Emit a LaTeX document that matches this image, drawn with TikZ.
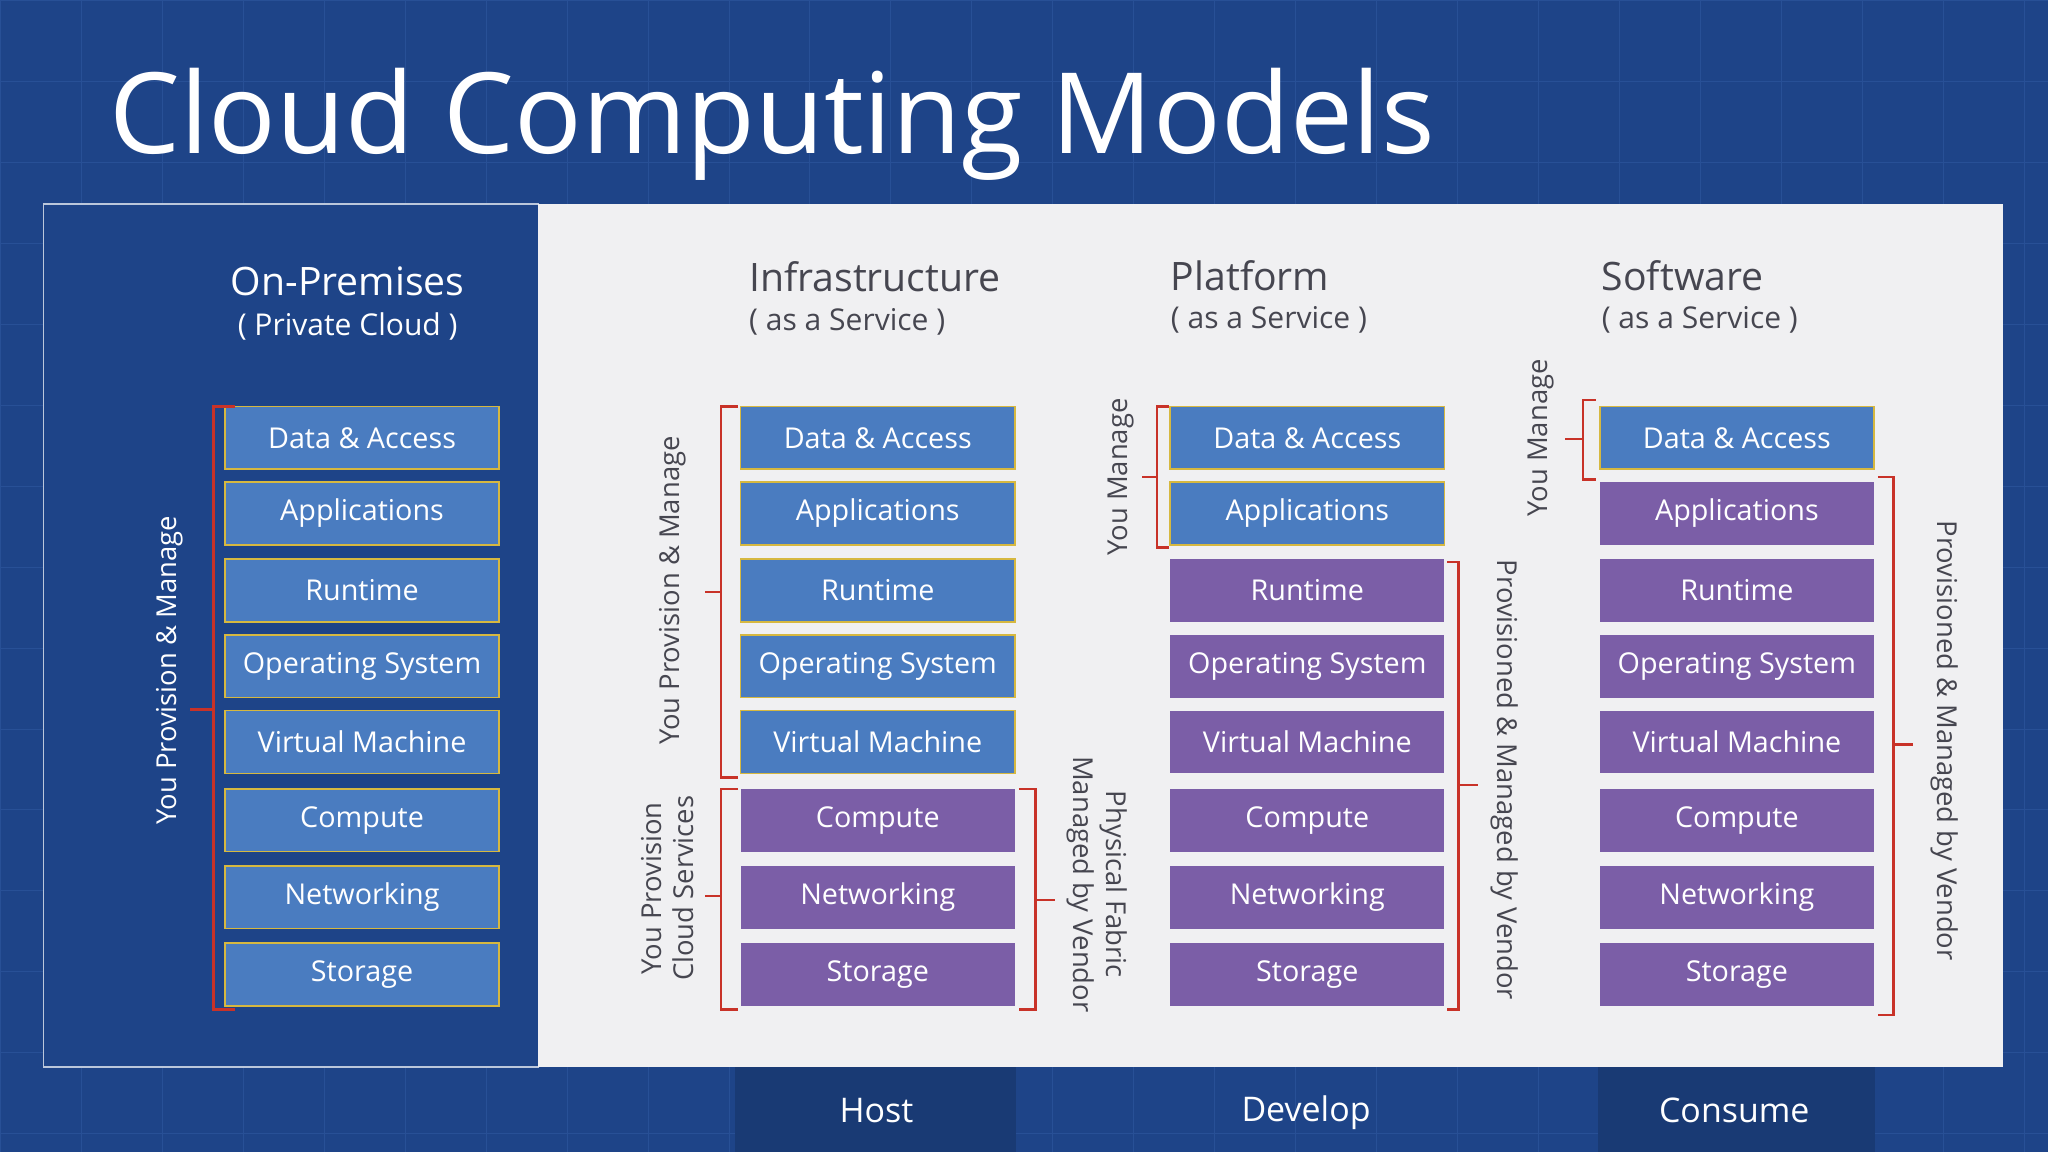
\documentclass[tikz,border=0pt]{standalone}
\usepackage{fontspec}
\setmainfont{Open Sans}
\definecolor{bgblue}{RGB}{30,68,136}
\definecolor{gridc}{RGB}{40,80,150}
\definecolor{panel}{RGB}{240,240,242}
\definecolor{bbox}{RGB}{74,124,192}
\definecolor{bbord}{RGB}{214,184,64}
\definecolor{pbox}{RGB}{123,94,167}
\definecolor{brk}{RGB}{200,50,40}
\definecolor{lab}{RGB}{70,70,80}
\begin{document}
\begin{tikzpicture}[x=1pt,y=-1pt,
  bl/.style={draw=bbord,line width=1.2pt,fill=bbox,minimum width=210pt,minimum height=48pt,text=white,font=\fontsize{22}{24}\selectfont,inner sep=0pt},
  pu/.style={fill=pbox,minimum width=210pt,minimum height=48pt,text=white,font=\fontsize{22}{24}\selectfont,inner sep=0pt},
  brace/.style={draw=brk,line width=2pt},
  rl/.style={text=white,font=\fontsize{21}{25}\selectfont,align=center},
  dl/.style={text=lab,font=\fontsize{21}{25}\selectfont,align=center},
  hd/.style={text=lab,font=\fontsize{30}{32}\selectfont,anchor=west},
  sh/.style={text=lab,font=\fontsize{23}{26}\selectfont,anchor=west}]
\fill[bgblue] (0,0) rectangle (1568,882);
\foreach \x in {0,62,...,1568} \draw[gridc,line width=0.6pt] (\x,0) -- (\x,882);
\foreach \y in {0,62,...,882} \draw[gridc,line width=0.6pt] (0,\y) -- (1568,\y);
\node[text=white,font=\fontsize{86}{90}\selectfont,anchor=west] (title) at (80,95) {Cloud Computing Models};
\draw[fill=bgblue,draw=white!70!bgblue,line width=1pt] (33,156) rectangle (412,817);
\fill[panel] (412,156) rectangle (1534,817);
\fill[bgblue!85!black] (563,817) rectangle (778,882);
\fill[bgblue!85!black] (1224,817) rectangle (1436,882);
\node[text=white,font=\fontsize{30}{32}\selectfont] (h0) at (266,215) {On-Premises};
\node[text=white,font=\fontsize{23}{26}\selectfont] (s0) at (266,250) {( Private Cloud )};
\node[hd] (h1) at (570,212) {Infrastructure};
\node[sh] (s1) at (570,246) {( as a Service )};
\node[hd] (h2) at (893,211) {Platform};
\node[sh] (s2) at (893,245) {( as a Service )};
\node[hd] (h3) at (1223,211) {Software};
\node[sh] (s3) at (1223,245) {( as a Service )};
\def\rows{{335,393,452,510,568,628,687,746}}
\def\names{{"Data \& Access","Applications","Runtime","Operating System","Virtual Machine","Compute","Networking","Storage"}}
\foreach \i/\t in {0/Data \& Access,1/Applications,2/Runtime,3/Operating System,4/Virtual Machine,5/Compute,6/Networking,7/Storage}{
  \pgfmathsetmacro{\yy}{\rows[\i]}
  \node[bl] (a\i) at (277,\yy) {\t};
  \ifnum\i<5 \node[bl] (b\i) at (672,\yy) {\t}; \else \node[pu] (b\i) at (672,\yy) {\t}; \fi
  \ifnum\i<2 \node[bl] (c\i) at (1001,\yy) {\t}; \else \node[pu] (c\i) at (1001,\yy) {\t}; \fi
  \ifnum\i<1 \node[bl] (d\i) at (1330,\yy) {\t}; \else \node[pu] (d\i) at (1330,\yy) {\t}; \fi
}
% brackets
\draw[brace] (180,311) -- (163,311) -- (163,773) -- (180,773) (163,543) -- (145,543);
\node[rl,rotate=90] (l0) at (130,513) {You Provision \& Manage};
\draw[brace] (565,311) -- (552,311) -- (552,595) -- (565,595) (552,453) -- (540,453);
\node[dl,rotate=90] (l1) at (515,452) {You Provision \& Manage};
\draw[brace] (565,604) -- (552,604) -- (552,773) -- (565,773) (552,686) -- (540,686);
\node[dl,rotate=90] (l2) at (511,680) {You Provision\\Cloud Services};
\draw[brace] (780,604) -- (793,604) -- (793,773) -- (780,773) (793,689) -- (808,689);
\node[dl,rotate=-90] (l3) at (840,677) {Physical Fabric\\Managed by Vendor};
\draw[brace] (895,311) -- (886,311) -- (886,419) -- (895,419) (886,365) -- (874,365);
\node[dl,rotate=90] (l4) at (858,365) {You Manage};
\draw[brace] (1108,430) -- (1117,430) -- (1117,773) -- (1108,773) (1117,601) -- (1132,601);
\node[dl,rotate=-90] (l5) at (1152,597) {Provisioned \& Managed by Vendor};
\draw[brace] (1222,306) -- (1212,306) -- (1212,367) -- (1222,367) (1212,336) -- (1198,336);
\node[dl,rotate=90] (l6) at (1180,335) {You Manage};
\draw[brace] (1438,365) -- (1450,365) -- (1450,777) -- (1438,777) (1450,570) -- (1465,570);
\node[dl,rotate=-90] (l7) at (1489,567) {Provisioned \& Managed by Vendor};
\node[text=white,font=\fontsize{26}{28}\selectfont] (f1) at (671,850) {Host};
\node[text=white,font=\fontsize{26}{28}\selectfont] (f2) at (1000,852) {Develop};
\node[text=white,font=\fontsize{26}{28}\selectfont] (f3) at (1328,850) {Consume};
\end{tikzpicture}
\end{document}
